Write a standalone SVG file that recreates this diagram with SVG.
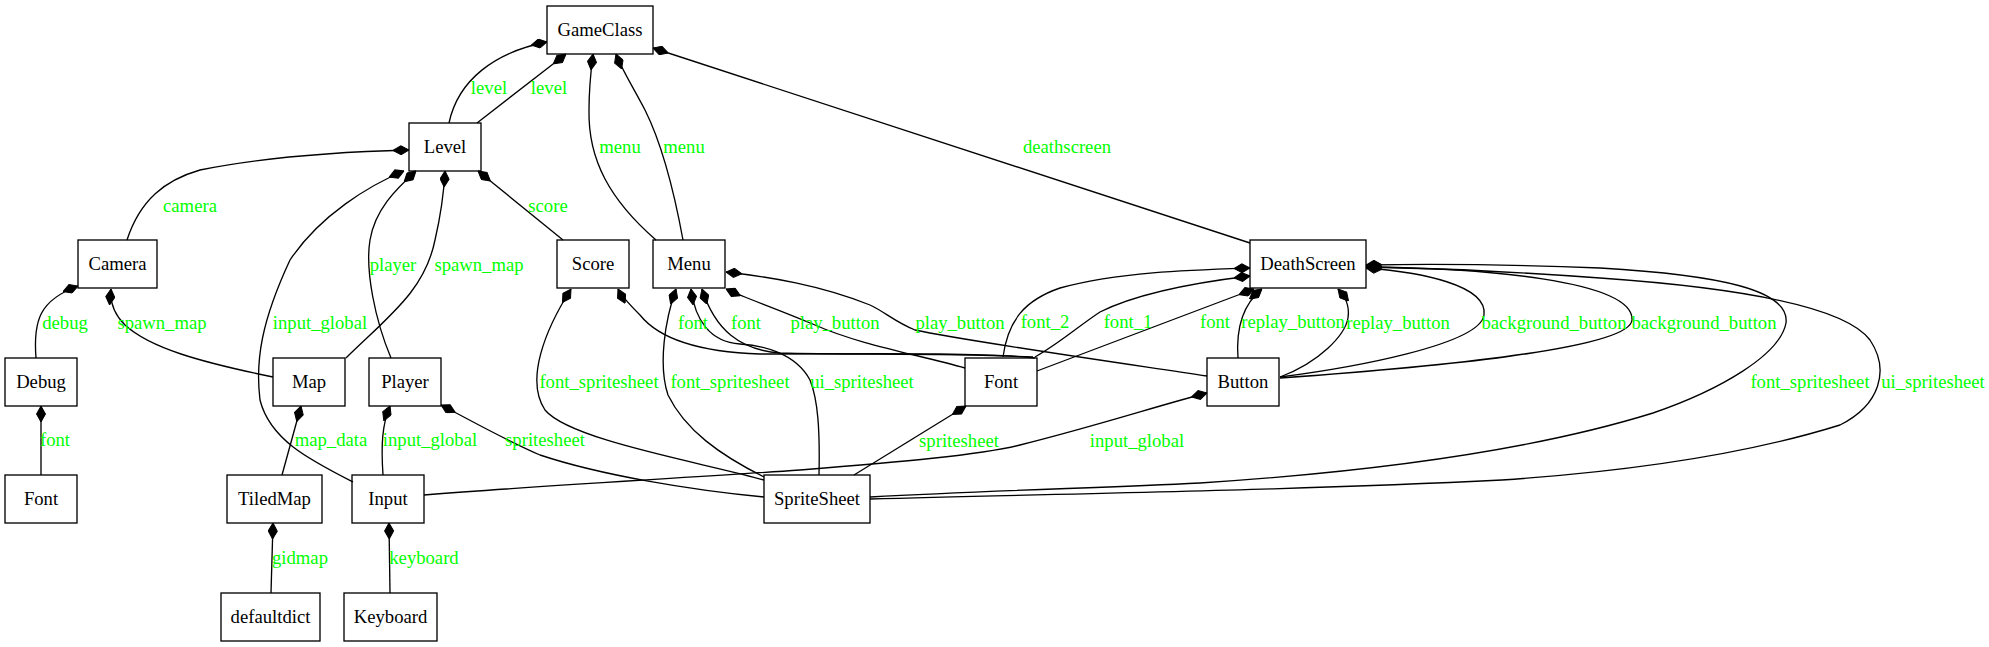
<svg xmlns="http://www.w3.org/2000/svg" width="1989" height="647" viewBox="0 0 1989 647">
<style>
.n rect{fill:none;stroke:#000;stroke-width:1.33}
.n text{font-family:"Liberation Serif","Times New Roman",serif;font-size:18.67px;fill:#000;text-anchor:middle}
.e path{fill:none;stroke:#000;stroke-width:1.33;marker-end:url(#dia)}
.l text{font-family:"Liberation Serif","Times New Roman",serif;font-size:18.67px;fill:#00ff00;text-anchor:middle}
</style>
<defs>
<marker id="dia" markerUnits="userSpaceOnUse" viewBox="0 0 16 10" markerWidth="16" markerHeight="10" refX="16" refY="5" orient="auto">
<path d="M0,5 L8,0.5 L16,5 L8,9.5 Z" fill="#000" stroke="#000" stroke-width="1"/>
</marker>
</defs>
<rect width="1989" height="647" fill="#fff"/>
<g id="edges" class="e">
<path d="M449,123 C458,80 495,52 547,42"/>
<path d="M477,123 L566,54"/>
<path d="M656,240 C610,200 588,160 589,110 C589,90 591,70 593,54"/>
<path d="M683,240 C672,180 660,140 645,110 C632,85 622,70 616,54"/>
<path d="M1250,243 L653,48"/>
<path d="M127,240 C140,200 165,180 200,170 C260,158 330,152 409,150"/>
<path d="M563,240 L478,171"/>
<path d="M391,358 C375,320 365,270 370,240 C375,210 395,190 416,171"/>
<path d="M346,358 C390,315 425,290 435,240 C442,210 444,190 445,171"/>
<path d="M353,482 C310,460 270,440 260,400 C255,360 262,320 290,260 C320,215 370,185 404,171"/>
<path d="M36,358 C33,320 40,300 78,286"/>
<path d="M273,377 C200,362 150,348 125,325 C112,312 110,300 111,289"/>
<path d="M41,475 L41,406"/>
<path d="M282,475 L301,406"/>
<path d="M383,475 C381,445 382,425 390,406"/>
<path d="M764,497 C690,490 600,475 540,455 C505,440 470,420 441,405"/>
<path d="M271,593 L273,523"/>
<path d="M390,593 L389,523"/>
<path d="M764,480 C700,462 570,440 545,410 C525,380 545,330 571,289"/>
<path d="M1035,358 C980,352 850,354 760,354 C700,352 660,340 640,315 C630,305 622,297 618,289"/>
<path d="M764,477 C720,455 685,430 668,395 C658,365 665,320 676,289"/>
<path d="M819,475 C820,430 818,400 810,380 C795,352 760,345 740,344 C710,342 695,320 691,289"/>
<path d="M1033,357 C950,353 850,355 780,353 C740,350 715,330 702,289"/>
<path d="M965,368 C920,355 860,345 815,325 C775,308 745,298 726,289"/>
<path d="M1207,376 C1100,360 960,340 915,330 C895,322 885,312 870,305 C820,285 770,277 726,272"/>
<path d="M1003,357 C1008,320 1025,300 1060,288 C1120,272 1190,270 1250,268"/>
<path d="M1035,357 C1060,343 1080,325 1100,312 C1140,292 1200,282 1250,276"/>
<path d="M1037,371 L1254,289"/>
<path d="M1238,358 C1236,330 1242,305 1262,289"/>
<path d="M1280,377 C1320,362 1345,335 1348,318 C1350,305 1345,297 1338,289"/>
<path d="M1280,377 C1350,368 1480,345 1484,315 C1488,285 1420,272 1366,268"/>
<path d="M1280,378 C1420,368 1630,350 1632,320 C1634,280 1480,268 1366,267"/>
<path d="M870,497 C1000,490 1100,488 1200,483 C1400,470 1550,445 1653,413 C1720,390 1780,355 1786,323 C1790,290 1720,275 1600,268 C1500,264 1420,264 1366,265"/>
<path d="M870,499 C1100,493 1300,490 1502,480 C1650,470 1760,450 1840,425 C1880,405 1890,370 1870,340 C1840,300 1700,285 1600,278 C1520,272 1420,268 1366,267"/>
<path d="M854,475 L966,406"/>
<path d="M424,495 C550,485 700,477 800,470 C900,462 980,455 1020,445 C1100,425 1160,405 1207,393"/>
</g>
<g id="labels" class="l">
<text x="489" y="94">level</text>
<text x="549" y="94">level</text>
<text x="620" y="153">menu</text>
<text x="684" y="153">menu</text>
<text x="1067" y="153">deathscreen</text>
<text x="190" y="212">camera</text>
<text x="548" y="212">score</text>
<text x="393" y="271">player</text>
<text x="479" y="271">spawn_map</text>
<text x="65" y="329">debug</text>
<text x="162" y="329">spawn_map</text>
<text x="320" y="329">input_global</text>
<text x="693" y="329">font</text>
<text x="746" y="329">font</text>
<text x="835" y="329">play_button</text>
<text x="960" y="329">play_button</text>
<text x="1045" y="328">font_2</text>
<text x="1128" y="328">font_1</text>
<text x="1215" y="328">font</text>
<text x="1293" y="328">replay_button</text>
<text x="1398" y="329">replay_button</text>
<text x="1554" y="329">background_button</text>
<text x="1704" y="329">background_button</text>
<text x="599" y="388">font_spritesheet</text>
<text x="730" y="388">font_spritesheet</text>
<text x="862" y="388">ui_spritesheet</text>
<text x="1810" y="388">font_spritesheet</text>
<text x="1933" y="388">ui_spritesheet</text>
<text x="55" y="446">font</text>
<text x="331" y="446">map_data</text>
<text x="430" y="446">input_global</text>
<text x="545" y="446">spritesheet</text>
<text x="959" y="447">spritesheet</text>
<text x="1137" y="447">input_global</text>
<text x="300" y="564">gidmap</text>
<text x="424" y="564">keyboard</text>
</g>
<g id="GameClass" class="n"><rect x="547" y="6" width="106" height="48"/><text x="600" y="36">GameClass</text></g>
<g id="Level" class="n"><rect x="409" y="123" width="72" height="48"/><text x="445" y="153">Level</text></g>
<g id="Camera" class="n"><rect x="78" y="240" width="79" height="48"/><text x="117.5" y="270">Camera</text></g>
<g id="Score" class="n"><rect x="557" y="240" width="72" height="48"/><text x="593" y="270">Score</text></g>
<g id="Menu" class="n"><rect x="653" y="240" width="72" height="48"/><text x="689" y="270">Menu</text></g>
<g id="DeathScreen" class="n"><rect x="1250" y="240" width="116" height="48"/><text x="1308" y="270">DeathScreen</text></g>
<g id="Debug" class="n"><rect x="5" y="358" width="72" height="48"/><text x="41" y="388">Debug</text></g>
<g id="Map" class="n"><rect x="273" y="358" width="72" height="48"/><text x="309" y="388">Map</text></g>
<g id="Player" class="n"><rect x="369" y="358" width="72" height="48"/><text x="405" y="388">Player</text></g>
<g id="Font_mid" class="n"><rect x="965" y="358" width="72" height="48"/><text x="1001" y="388">Font</text></g>
<g id="Button" class="n"><rect x="1207" y="358" width="72" height="48"/><text x="1243" y="388">Button</text></g>
<g id="Font_left" class="n"><rect x="5" y="475" width="72" height="48"/><text x="41" y="505">Font</text></g>
<g id="TiledMap" class="n"><rect x="227" y="475" width="95" height="48"/><text x="274.5" y="505">TiledMap</text></g>
<g id="Input" class="n"><rect x="352" y="475" width="72" height="48"/><text x="388" y="505">Input</text></g>
<g id="SpriteSheet" class="n"><rect x="764" y="475" width="106" height="48"/><text x="817" y="505">SpriteSheet</text></g>
<g id="defaultdict" class="n"><rect x="221" y="593" width="99" height="48"/><text x="270.5" y="623">defaultdict</text></g>
<g id="Keyboard" class="n"><rect x="344" y="593" width="93" height="48"/><text x="390.5" y="623">Keyboard</text></g>
</svg>
